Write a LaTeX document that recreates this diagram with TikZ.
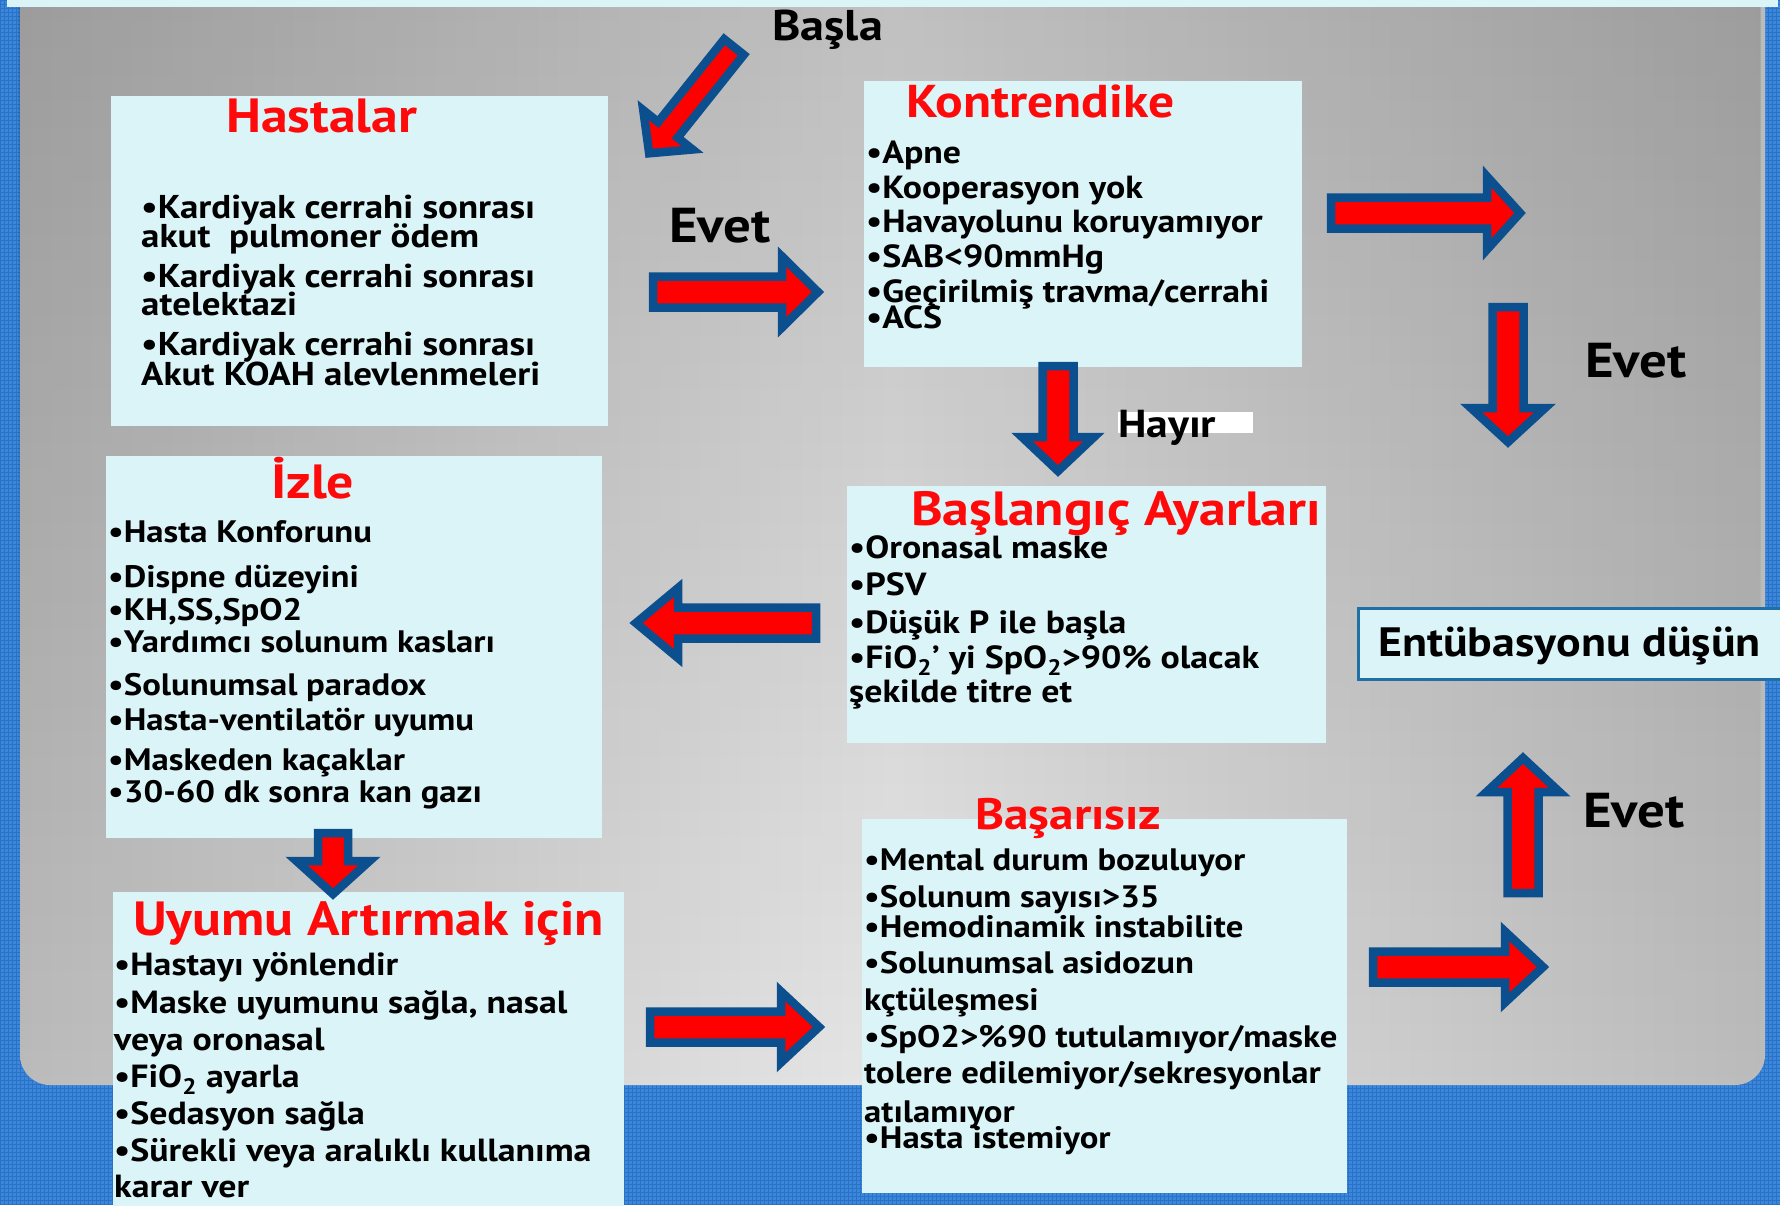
\documentclass[tikz,border=0pt]{standalone}
\usepackage{fontspec}
\setmainfont{PT Sans}[FakeStretch=1.12]
\usetikzlibrary{fadings}

\definecolor{gridbase}{HTML}{3A87DC}
\definecolor{gridline}{HTML}{2B72C6}
\definecolor{boxcyan}{HTML}{DBF4F8}
\definecolor{titlered}{HTML}{FF0A0A}
\definecolor{arrowred}{HTML}{FF0000}
\definecolor{arrowblue}{HTML}{0B4F8F}
\definecolor{frameblue}{HTML}{1F70A6}
\definecolor{panelmid}{HTML}{E6E6E6}
\definecolor{paneledge}{HTML}{BBBBBB}

\tikzset{
  box/.style={fill=boxcyan, inner sep=0, anchor=north west},
  item/.style={inner sep=0, anchor=base west, font=\bfseries\fontsize{#1}{#1}\selectfont},
  heading/.style={inner sep=0, anchor=base west, text=titlered, font=\bfseries\fontsize{#1}{#1}\selectfont},
  tag/.style={inner sep=0, anchor=base west, font=\bfseries\fontsize{#1}{#1}\selectfont},
  % length / head length / half shaft / half head
  pics/blockarrow/.style n args={4}{code={
    \filldraw[draw=arrowblue, fill=arrowred, line width=8.5pt]
      (0,-#3) -- ({#1-#2},-#3) -- ({#1-#2},-#4) -- (#1,0) -- ({#1-#2},#4) -- ({#1-#2},#3) -- (0,#3) -- cycle;
  }},
}

\begin{document}
\begin{tikzpicture}[x=1pt, y=-1pt]
  \useasboundingbox (0,0) rectangle (1780,1205);

  % background
  \fill[gridbase] (0,0) rectangle (1780,1205);
  \draw[gridline, line width=1pt, step=4pt] (0,1205) grid (1780,0);
  \shade[left color=paneledge, right color=paneledge, middle color=panelmid, rounded corners=30]
    (20,-40) rectangle (1765,1085);
  \fill[black, opacity=0.17, path fading=south, rounded corners=30] (20,-40) rectangle (1765,1085);
  \fill[boxcyan] (7,0) rectangle (1778,7);

  % boxes
  \node[box, minimum width=497, minimum height=330] (hastalar) at (111,96) {};
  \node[box, minimum width=438, minimum height=286] (kontr) at (864,81) {};
  \node[box, minimum width=496, minimum height=382] (izle) at (106,456) {};
  \node[box, minimum width=479, minimum height=257] (ayar) at (847,486) {};
  \node[box, minimum width=511, minimum height=330] (uyum) at (113,892) {};
  \node[box, minimum width=485, minimum height=374] (basarisiz) at (862,819) {};
  \node[box, draw=frameblue, line width=2.5pt, minimum width=440, minimum height=71] (entub) at (1357,607) {};

  % titles
  \node[heading=48] (t-hastalar) at (226,132) {Hastalar};
  \node[heading=46] (t-kontr) at (906,117) {Kontrendike};
  \node[heading=48] (t-izle) at (271,498) {İzle};
  \node[heading=48] (t-ayar) at (911,525) {Başlangıç Ayarları};
  \node[heading=48] (t-uyum) at (133,935) {Uyumu Artırmak için};
  \node[heading=44] (t-basarisiz) at (975,829) {Başarısız};
  \node[tag=41] (t-entub) at (1378,656) {Entübasyonu düşün};

  % lists
  \foreach \y/\t [count=\i] in {218/{•Kardiyak cerrahi sonrası}, 247/{akut \ pulmoner ödem},
      287/{•Kardiyak cerrahi sonrası}, 315/{atelektazi},
      355/{•Kardiyak cerrahi sonrası}, 385/{Akut KOAH alevlenmeleri}}
    \node[item=33] (hastalar-\i) at (141,\y) {\t};

  \foreach \y/\t [count=\i] in {163/{•Apne}, 198/{•Kooperasyon yok}, 232/{•Havayolunu koruyamıyor},
      267/{•SAB<90mmHg}, 302/{•Geçirilmiş travma/cerrahi}, 328/{•ACS}}
    \node[item=32] (kontr-\i) at (866,\y) {\t};

  \foreach \y/\t [count=\i] in {558/{•Oronasal maske}, 595/{•PSV}, 633/{•Düşük P ile başla},
      668/{•FiO\textsubscript{2}' yi SpO\textsubscript{2}>90\% olacak}, 702/{şekilde titre et}}
    \node[item=32] (ayar-\i) at (849,\y) {\t};

  \foreach \y/\t [count=\i] in {542/{•Hasta Konforunu}, 587/{•Dispne düzeyini}, 620/{•KH,SS,SpO2},
      652/{•Yardımcı solunum kasları}, 695/{•Solunumsal paradox}, 730/{•Hasta-ventilatör uyumu},
      770/{•Maskeden kaçaklar}, 802/{•30-60 dk sonra kan gazı}}
    \node[item=31] (izle-\i) at (108,\y) {\t};

  \foreach \y/\t [count=\i] in {975/{•Hastayı yönlendir}, 1013/{•Maske uyumunu sağla, nasal},
      1050/{veya oronasal}, 1087/{•FiO\textsubscript{2} ayarla}, 1124/{•Sedasyon sağla},
      1161/{•Sürekli veya aralıklı kullanıma}, 1197/{karar ver}}
    \node[item=32] (uyum-\i) at (114,\y) {\t};

  \foreach \y/\t [count=\i] in {870/{•Mental durum bozuluyor}, 907/{•Solunum sayısı>35},
      937/{•Hemodinamik instabilite}, 973/{•Solunumsal asidozun}, 1010/{kçtüleşmesi},
      1047/{•SpO2>\%90 tutulamıyor/maske}, 1083/{tolere edilemiyor/sekresyonlar},
      1122/{atılamıyor}, 1148/{•Hasta istemiyor}}
    \node[item=31] (basarisiz-\i) at (864,\y) {\t};

  % block arrows
  \pic[rotate=231.4] (a-basla) at (734,47) {blockarrow={136}{30}{12.5}{31.5}};
  \pic (a-evet1) at (653,292) {blockarrow={165}{36}{15.5}{35.5}};
  \pic (a-sag) at (1331,213) {blockarrow={189}{33}{15.5}{36.5}};
  \pic[rotate=-90] (a-evet2) at (1508,307) {blockarrow={135}{34}{15.5}{37}};
  \pic[rotate=-90] (a-hayir) at (1058,366) {blockarrow={105}{34}{15.5}{36}};
  \pic[rotate=180] (a-izle) at (816,623) {blockarrow={180}{42}{15.5}{35}};
  \pic[rotate=-90] (a-uyum) at (333,833) {blockarrow={61}{33}{15}{36.5}};
  \pic (a-basarisiz) at (650,1027) {blockarrow={169}{38}{15.5}{35.5}};
  \pic (a-sag2) at (1373,967) {blockarrow={170}{38}{15.5}{35.5}};
  \pic[rotate=90] (a-evet3) at (1523,893) {blockarrow={135}{34}{15.5}{36.5}};

  % labels
  \node[tag=43] (basla) at (772,40) {Başla};
  \node[tag=49] (evet-1) at (669,242) {Evet};
  \node[tag=49] (evet-2) at (1585,377) {Evet};
  \node[tag=49] (evet-3) at (1583,827) {Evet};
  \fill[white] (1118,412) rectangle (1253,433);
  \node[tag=39] (hayir) at (1118,437) {Hayır};
\end{tikzpicture}
\end{document}
